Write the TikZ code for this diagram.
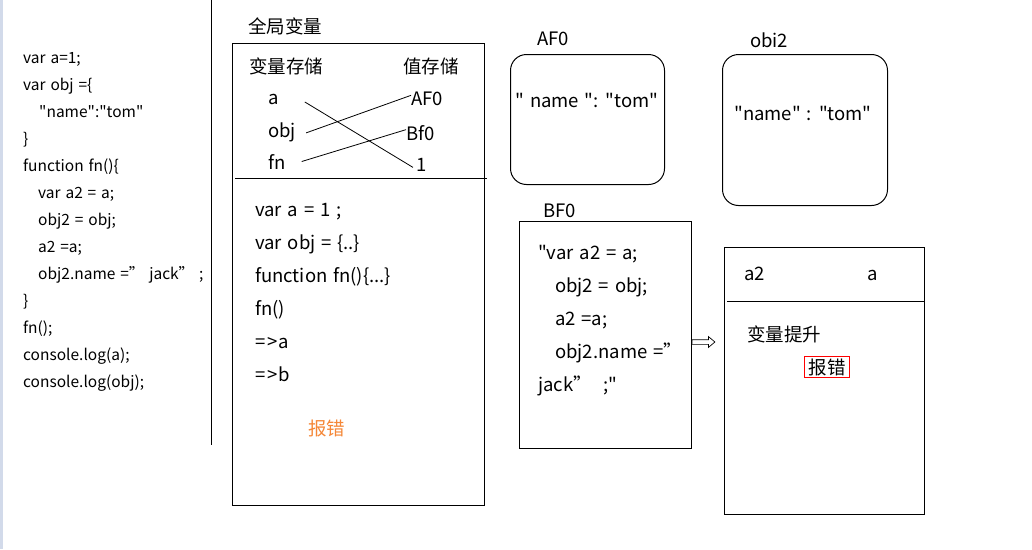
\documentclass[tikz,border=0pt]{standalone}
\usepackage{fontspec}
\setmainfont{Noto Sans CJK SC}[Ligatures=TeXOff,WordSpace=1.4]
\usetikzlibrary{shapes.arrows}
\definecolor{errorange}{RGB}{245,135,55}
\definecolor{stripblue}{RGB}{210,218,234}
\newcommand{\tridot}{...}
\tikzset{
  code/.style={anchor=base west,inner sep=0pt,font=\fontsize{15.5}{18}\selectfont},
  txt/.style={anchor=base west,inner sep=0pt,font=\fontsize{18.5}{21}\selectfont},
  frame/.style={draw,line width=1pt,anchor=north west,inner sep=0pt},
  link/.style={line width=0.8pt}
}
\begin{document}
\begin{tikzpicture}[x=1pt,y=-1pt]
        \useasboundingbox (0,0) rectangle (1032,549);
        \fill[white] (0,0) rectangle (1032,549);
        \fill[stripblue] (0,0) rectangle (3,549);
        % Source code
        \foreach \x/\t [count=\i] in {23/{var a=1;},23/{var obj =\{},39/{"name":"tom"},23/{\}},
            23/{function fn()\{},38/{var a2 = a;},38/{obj2 = obj;},38/{a2 =a;},
            38/{obj2.name =” jack” ;},23/{\}},23/{fn();},23/{console.log(a);},23/{console.log(obj);}}
          \node[code] (src\i) at (\x,{57+27*(\i-1)+6}) {\t};
        \draw[line width=1pt] (211,0) -- (211,445);
        % Global scope
        \node[txt] (gtitle) at (248,33) {全局变量};
        \node[frame,minimum width=252,minimum height=462] (global) at (232,43) {};
        \draw[line width=1pt] (235,178) -- (487,178);
        \node[txt] (varstore) at (249,73) {变量存储};
        \node[txt] (valstore) at (403,73) {值存储};
        \node[txt] (va) at (268,104) {a};
        \node[txt] (vobj) at (268,137) {obj};
        \node[txt] (vfn) at (268,169) {fn};
        \node[txt] (vaf) at (411,105) {AF0};
        \node[txt] (vbf) at (406,140) {Bf0};
        \node[txt] (vone) at (416,171) {1};
        \draw[link] ([xshift=26pt,yshift=-3pt]va.east) -- ([xshift=-3pt,yshift=-3pt]vone.west);
        \draw[link] ([xshift=10pt,yshift=-1pt]vobj.east) -- ([yshift=3pt]vaf.west);
        \draw[link] ([xshift=16pt]vfn.east) -- ([yshift=3pt]vbf.west);
        \foreach \t [count=\i] in {{var a = 1 ;},{var obj = \{..\}},{function fn()\{\tridot\}},{fn()},{=\kern2pt>\kern1pt a},{=\kern2pt>\kern1pt b}}
          \node[txt] (exec\i) at (255,{210+33*(\i-1)+6}) {\t};
        \node[txt,text=errorange] (gerr) at (308,435) {报错};
        % Heap objects
        \node[txt] (aftitle) at (537,45) {AF0};
        \node[frame,rounded corners=16pt,minimum width=154,minimum height=130] (afbox) at (510,54) {};
        \node[txt,anchor=center] (aftxt) at (587,100) {" name ": "tom"};
        \node[txt] (obtitle) at (750,47) {obi2};
        \node[frame,rounded corners=16pt,minimum width=165,minimum height=151] (obbox) at (722,54) {};
        \node[txt,anchor=center] (obtxt) at (803,113) {"name" : "tom"};
        \node[txt] (bftitle) at (543,217) {BF0};
        \node[frame,minimum width=172,minimum height=227] (bfbox) at (519,221) {};
        \foreach \x/\t [count=\i] in {538/{"var a2 = a;},555/{obj2 = obj;},555/{a2 =a;},555/{obj2.name =”},538/{jack”\ \ ;"}}
          \node[txt] (fnl\i) at (\x,{253+33*(\i-1)+6}) {\t};
        % Function scope
        \node[draw,single arrow,line width=0.7pt,minimum height=23pt,inner sep=2pt,
              single arrow head extend=3pt,single arrow tip angle=80] (hoistarrow) at (702,342) {};
        \node[frame,minimum width=200,minimum height=267] (fnbox) at (724,247) {};
        \draw[line width=1pt] (727,301) -- (fnbox.east |- 0,301);
        \node[txt] (fa2) at (744,280) {a2};
        \node[txt] (fa) at (867,280) {a};
        \node[txt] (hoist) at (747,341) {变量提升};
        \node[txt,anchor=center,draw=red,line width=0.8pt,inner xsep=4pt,inner ysep=2pt] (ferr) at (827,367) {报错};
\end{tikzpicture}
\end{document}
